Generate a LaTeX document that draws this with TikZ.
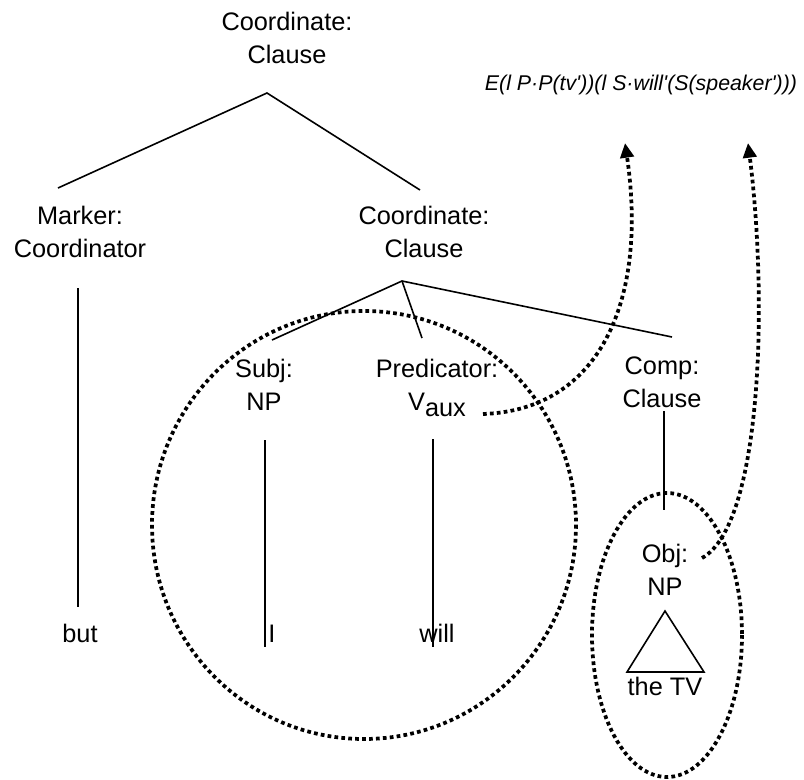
\documentclass[tikz,border=0pt]{standalone}
\usepackage{fontspec}
\setmainfont{Liberation Sans}
\usetikzlibrary{arrows.meta}

\tikzset{
  lbl/.style={font=\fontsize{19}{24.5}\selectfont, align=center, inner sep=0pt, anchor=base},
  sem/.style={font=\fontsize{16}{20}\selectfont\itshape, inner sep=0pt, anchor=base},
  branch/.style={line width=1.2pt},
  dotline/.style={line width=2.8pt, dash pattern=on 2.8pt off 2.4pt},
  link/.style={dotline, -{Triangle[length=11pt,width=10pt]}}
}

\begin{document}
\begin{tikzpicture}[x=0.75pt,y=0.75pt,yscale=-1,xscale=1]
\useasboundingbox (0,0) rectangle (804,779);

% labels (base = last line)
\node[lbl] (coordA) at (287,63) {Coordinate:\\Clause};
\node[lbl] (marker) at (80,257) {Marker:\\Coordinator};
\node[lbl] (coordB) at (424,257) {Coordinate:\\Clause};
\node[lbl] (subj) at (264,410) {Subj:\\NP};
\node[lbl] (pred) at (437,410) {Predicator:\\V\raisebox{-5pt}{aux}};
\node[lbl] (comp) at (662,407) {Comp:\\Clause};
\node[lbl] (obj) at (665,595) {Obj:\\NP};
\node[lbl] (theTV) at (665,695) {the TV};
\node[lbl] (but) at (80,642) {but};
\node[lbl] (wI) at (272,642) {I};
\node[lbl] (will) at (437,642) {will};
\node[sem] (formula) at (641,90) {E(l P\textperiodcentered P(tv\textquotesingle))(l S\textperiodcentered will\textquotesingle(S(speaker\textquotesingle)))};

% branch points
\coordinate (rootA) at (267,93);
\coordinate (markerTop) at (58,188);
\coordinate (coordBTop) at (420,190);
\coordinate (rootB) at (402,281);
\coordinate (subjTop) at (272,340);
\coordinate (predTop) at (422,338);
\coordinate (compTop) at (672,337);
\coordinate (markerBot) at (78,288);
\coordinate (butTop) at (78,607);
\coordinate (subjBot) at (265,440);
\coordinate (iTop) at (265,647);
\coordinate (predBot) at (433,439);
\coordinate (willTop) at (433,647);
\coordinate (compBot) at (664,411);
\coordinate (objTop) at (664,510);

\draw[branch] (markerTop) -- (rootA) -- (coordBTop);
\draw[branch] (subjTop) -- (rootB) -- (compTop);
\draw[branch] (rootB) -- (predTop);
\draw[branch] (markerBot) -- (butTop);
\draw[branch] (subjBot) -- (iTop);
\draw[branch] (predBot) -- (willTop);
\draw[branch] (compBot) -- (objTop);

% triangle over the TV
\draw[branch] (665,611) -- (627,672) -- (704,672) -- cycle;

% scopes
\draw[dotline] (364,525) ellipse [x radius=212, y radius=214];
\draw[dotline] (667,635) ellipse [x radius=75, y radius=142];

% links to the formula
\coordinate (vauxOut) at (483,414);
\coordinate (tvIn) at (625,143);
\coordinate (objOut) at (702,558);
\coordinate (spkIn) at (748,143);
\draw[link] (vauxOut) .. controls (600,410) and (648,300) .. (tvIn);
\draw[link] (objOut) .. controls (762,525) and (768,300) .. (spkIn);
\end{tikzpicture}
\end{document}
